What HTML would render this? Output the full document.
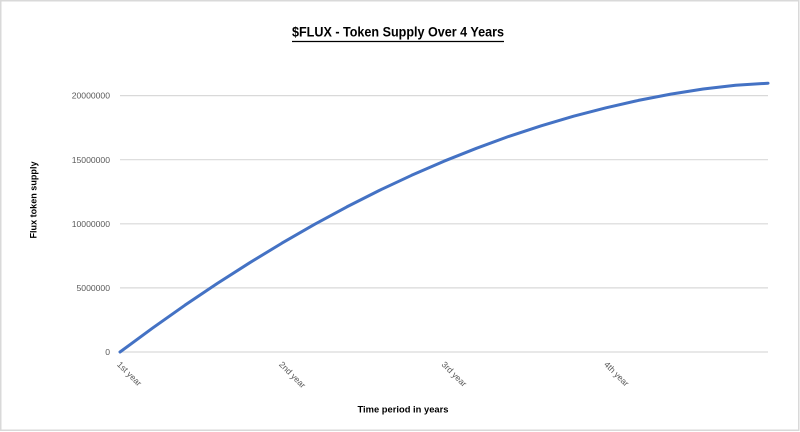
<!DOCTYPE html>
<html>
<head>
<meta charset="utf-8">
<style>
  html, body { margin: 0; padding: 0; background: #ffffff; }
  body { width: 800px; height: 432px; overflow: hidden; }
  svg { display: block; }
  text { font-family: "Liberation Sans", "DejaVu Sans", sans-serif; }
</style>
</head>
<body>
<svg width="800" height="432" viewBox="0 0 800 432" xmlns="http://www.w3.org/2000/svg">
  <rect x="0" y="0" width="800" height="432" fill="#ffffff"/>
  <rect x="0.75" y="0.75" width="798" height="429.5" fill="none" stroke="#d9d9d9" stroke-width="1.5"/>

  <!-- Title -->
  <text x="292" y="36.5" font-size="14" font-weight="bold" fill="#000" textLength="212" lengthAdjust="spacingAndGlyphs">$FLUX - Token Supply Over 4 Years</text>
  <line x1="292" y1="41.5" x2="504" y2="41.5" stroke="#000" stroke-width="1.2"/>

  <!-- Gridlines -->
  <g stroke="#d9d9d9" stroke-width="1.2">
    <line x1="120" y1="95.6" x2="768" y2="95.6"/>
    <line x1="120" y1="159.7" x2="768" y2="159.7"/>
    <line x1="120" y1="223.8" x2="768" y2="223.8"/>
    <line x1="120" y1="287.9" x2="768" y2="287.9"/>
    <line x1="120" y1="352" x2="768" y2="352"/>
  </g>

  <!-- Y tick labels -->
  <g font-size="8.6" fill="#595959" text-anchor="end">
    <text x="110" y="98.7">20000000</text>
    <text x="110" y="162.8">15000000</text>
    <text x="110" y="226.9">10000000</text>
    <text x="110" y="291">5000000</text>
    <text x="110" y="355.1">0</text>
  </g>

  <!-- Y axis title -->
  <text transform="translate(36.5,200) rotate(-90)" font-size="9.5" font-weight="bold" fill="#000" text-anchor="middle" textLength="77" lengthAdjust="spacingAndGlyphs">Flux token supply</text>

  <!-- X tick labels -->
  <g font-size="8.6" fill="#595959">
    <text transform="translate(116.5,365) rotate(45)">1st year</text>
    <text transform="translate(278.5,365) rotate(45)">2nd year</text>
    <text transform="translate(441,365) rotate(45)">3rd year</text>
    <text transform="translate(603.5,365) rotate(45)">4th year</text>
  </g>

  <!-- X axis title -->
  <text x="357.5" y="412.5" font-size="9.5" font-weight="bold" fill="#000" textLength="91" lengthAdjust="spacingAndGlyphs">Time period in years</text>

  <!-- Series -->
  <polyline fill="none" stroke="#4472c4" stroke-width="3" stroke-linejoin="round" stroke-linecap="round"
    points="120,352 152.4,328.2 184.8,305.3 217.2,283.5 249.6,262.8 282,243.1 314.4,224.4 346.8,206.9 379.2,190.5 411.6,175.3 444,161.2 476.4,148.3 508.8,136.4 541.2,125.8 573.6,116.2 606,107.8 638.4,100.4 670.8,94.1 703.2,89.0 735.6,85.2 768,83.2"/>
</svg>
</body>
</html>
